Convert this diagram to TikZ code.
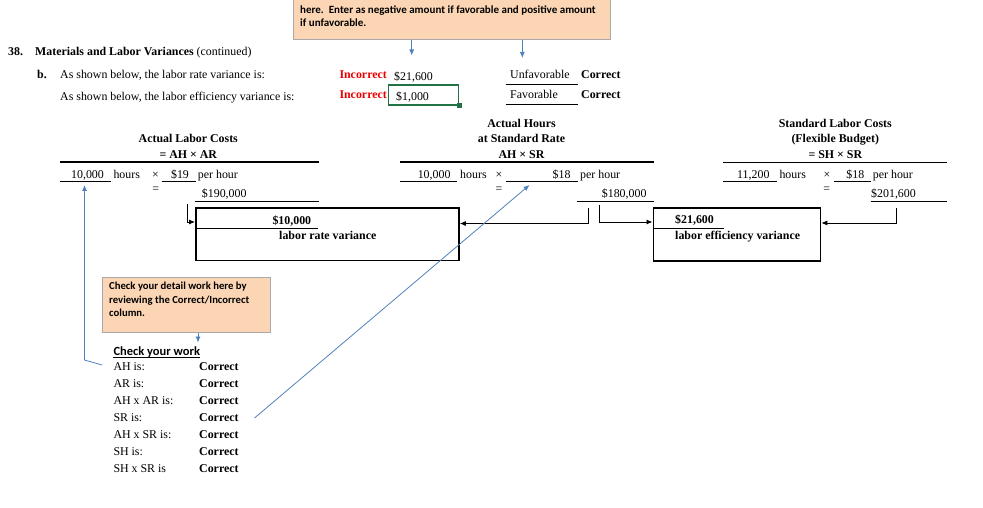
\documentclass[tikz,border=0pt]{standalone}
\usepackage{fontspec}
\setmainfont{Liberation Serif}
\newfontfamily\calfont{Carlito}
\usetikzlibrary{arrows.meta}
\definecolor{peach}{HTML}{FCD5B4}
\definecolor{peachline}{HTML}{A9A9A9}
\definecolor{xblue}{HTML}{4F81BD}
\definecolor{xred}{HTML}{EE0000}
\definecolor{xgreen}{HTML}{217346}
\tikzset{
  rm/.style={inner sep=0pt, anchor=base west, font=\fontsize{11.9}{14}\selectfont},
  bs/.style={inner sep=0pt, anchor=base west, font=\fontsize{11.9}{14}\selectfont\bfseries},
  redtxt/.style={bs, text=xred},
  cal/.style={inner sep=0pt, anchor=base west, font=\fontsize{10.7}{13}\selectfont\calfont\bfseries},
  caltop/.style={inner sep=0pt, anchor=base west, font=\fontsize{11}{13}\selectfont\calfont\bfseries},
  calbig/.style={inner sep=0pt, anchor=base west, font=\fontsize{12.5}{15}\selectfont\calfont\bfseries},
  rule/.style={line width=0.9pt},
  thickrule/.style={line width=1.8pt},
  varbox/.style={draw, line width=1.8pt, inner sep=0pt, anchor=north west},
  notebox/.style={draw=peachline, fill=peach, line width=0.8pt, inner sep=0pt, anchor=north west},
  arr/.style={line width=0.9pt, -{Latex[length=6pt,width=5pt]}},
  barr/.style={draw=xblue, line width=0.8pt, -{Latex[length=6pt,width=5pt]}},
}
\begin{document}
\begin{tikzpicture}[x=1pt,y=-1pt]
\useasboundingbox (0,0) rectangle (983,508);
\clip (0,0) rectangle (983,508);

% top note box
\node[notebox, minimum width=316.7pt, minimum height=50pt] (tbox) at (293.3,-10.7) {};
\node[caltop] (tl1) at (300,13.3) {here.\ \ Enter as negative amount if favorable and positive amount};
\node[caltop] (tl2) at (300,26.7) {if unfavorable.};
\coordinate (ta1) at (411.7,55.5);
\coordinate (ta2) at (522.3,58);
\draw[barr] (tbox.south -| ta1) -- (ta1);
\draw[barr] (tbox.south -| ta2) -- (ta2);

% header
\node[bs] (n38) at (8,56) {38.};
\node[bs] (title) at (35,56) {Materials and Labor Variances \textmd{(continued)}};
\node[bs] (bb) at (37,79) {b.};
\node[rm] (q1) at (60,79) {As shown below, the labor rate variance is:};
\node[rm] (q2) at (60,101) {As shown below, the labor efficiency variance is:};
\node[redtxt] (inc1) at (339.3,79) {Incorrect};
\node[rm] (a1) at (394,81) {\$21,600};
\node[redtxt] (inc2) at (339.3,98.5) {Incorrect};
\node[rm] (a2) at (396,100.3) {\$1,000};
\node[draw=xgreen, line width=1.6pt, inner sep=0pt, anchor=north west, minimum width=70.3pt, minimum height=19.7pt] (gbox) at (387.5,84.5) {};
\fill[xgreen] ([xshift=-2.5pt,yshift=-2.5pt]gbox.south east) rectangle ([xshift=2.5pt,yshift=2.5pt]gbox.south east);
\node[rm] (unf) at (510,79) {Unfavorable};
\draw[rule] (505.7,84) -- (578.3,84);
\node[bs] (cor1) at (581,79) {Correct};
\node[rm] (fav) at (510,98.5) {Favorable};
\draw[rule] (505.7,104) -- (578.3,104);
\node[bs] (cor2) at (581,98.5) {Correct};

% column 1
\node[bs, anchor=base] (t1a) at (188.3,142.3) {Actual Labor Costs};
\node[bs, anchor=base] (t1b) at (188.3,158.3) {= AH × AR};
\draw[thickrule] (60,162.3) -- (319,162.3);
\node[rm, anchor=base] (ah1) at (87.5,178.3) {10,000};
\draw[rule] (60,181) -- (110.7,181);
\node[rm] (h1) at (113.3,178.3) {hours};
\node[rm, anchor=base] (x1) at (155.5,178.3) {×};
\node[rm, anchor=base] (ar1) at (180,178.3) {\$19};
\draw[rule] (161.7,181) -- (196,181);
\node[rm] (ph1) at (197.7,178.3) {per hour};
\node[rm, anchor=base] (e1) at (155.7,193) {=};
\node[rm] (tot1) at (201.7,197.3) {\$190,000};
\draw[rule] (195,201) -- (319,201);

% column 2
\node[bs, anchor=base] (t2a) at (521.5,127.7) {Actual Hours};
\node[bs, anchor=base] (t2b) at (521.5,142.3) {at Standard Rate};
\node[bs, anchor=base] (t2c) at (521.5,158.3) {AH × SR};
\draw[thickrule] (400,162.3) -- (654,162.3);
\node[rm, anchor=base east] (ah2) at (450.7,178.3) {10,000};
\draw[rule] (400,181) -- (457.3,181);
\node[rm] (h2) at (460,178.3) {hours};
\node[rm, anchor=base] (x2) at (499,178.3) {×};
\node[rm, anchor=base east] (sr2) at (570.7,178.3) {\$18};
\draw[rule] (506,181) -- (577.7,181);
\node[rm] (ph2) at (580,178.3) {per hour};
\node[rm, anchor=base] (e2) at (499,193) {=};
\node[rm, anchor=base east] (tot2) at (646.7,197.3) {\$180,000};
\draw[rule] (576.7,201) -- (654,201);

% column 3
\node[bs, anchor=base] (t3a) at (835.3,127.7) {Standard Labor Costs};
\node[bs, anchor=base] (t3b) at (835.3,142.3) {(Flexible Budget)};
\node[bs, anchor=base] (t3c) at (835.3,158.3) {= SH × SR};
\draw[thickrule] (723.3,162.5) -- (946.7,162.5);
\node[rm, anchor=base] (sh3) at (753.3,178.3) {11,200};
\draw[rule] (723.3,181) -- (777.3,181);
\node[rm] (h3) at (779.3,178.3) {hours};
\node[rm, anchor=base] (x3) at (827,178.3) {×};
\node[rm, anchor=base] (sr3) at (855.3,178.3) {\$18};
\draw[rule] (834.3,181) -- (870.7,181);
\node[rm] (ph3) at (872.7,178.3) {per hour};
\node[rm, anchor=base] (e3) at (826.7,193) {=};
\node[rm] (tot3) at (871,197.3) {\$201,600};
\draw[rule] (870.7,201) -- (946.7,201);

% variance boxes
\node[varbox, minimum width=263pt, minimum height=52.5pt] (box1) at (195,207) {};
\draw[rule] (195,228.3) -- (318,228.3);
\node[bs] (v1) at (272.3,224) {\$10,000};
\node[bs] (v1l) at (279,239.3) {labor rate variance};

\node[varbox, minimum width=167pt, minimum height=53pt] (box2) at (652.5,207) {};
\draw[rule] (653,228.3) -- (724,228.3);
\node[bs] (v2) at (675,223.5) {\$21,600};
\node[bs] (v2l) at (675,239.3) {labor efficiency variance};

% connectors into boxes
\coordinate (c1) at (187,204);
\coordinate (c2) at (588,208);
\coordinate (c3) at (599,205);
\coordinate (c4) at (896,208);
\draw[arr] (c1) |- ([yshift=-15pt]box1.north west);
\draw[arr] (c2) |- ([yshift=-16.5pt]box1.north east);
\draw[arr] (c3) |- ([yshift=-15pt]box2.north west);
\draw[arr] (c4) |- ([yshift=-16pt]box2.north east);

% check note box
\node[notebox, minimum width=167.7pt, minimum height=55pt] (cbox) at (102,277) {};
\node[cal] (cl1) at (109,289) {Check your detail work here by};
\node[cal] (cl2) at (109,303.3) {reviewing the Correct/Incorrect};
\node[cal] (cl3) at (109,316.7) {column.};
\coordinate (ca) at (198,342.5);
\draw[barr] (cbox.south -| ca) -- (ca);

\node[calbig] (chk) at (113.3,355.7) {Check your work};
\draw[line width=0.9pt] ([yshift=-1.8pt]chk.base west) -- ([yshift=-1.8pt]chk.base east);
\foreach \lab/\yy [count=\i] in {AH is:/370.7, AR is:/387.7, AH x AR is:/404.7, SR is:/421.7, AH x SR is:/438.7, SH is:/455.7, SH x SR is/472.7}{
  \node[rm] (row\i) at (113.3,\yy) {\lab};
  \node[bs] (res\i) at (199,\yy) {Correct};
}

% blue pointer lines
\coordinate (bl1) at (102,365);
\coordinate (bk) at (84.5,360);
\coordinate (bt1) at (84.5,185);
\draw[barr] (bl1) -- (bk) -- (bt1);
\coordinate (bs1) at (254.5,418);
\coordinate (bt2) at (529.5,185);
\draw[barr] (bs1) -- (bt2);
\end{tikzpicture}
\end{document}
